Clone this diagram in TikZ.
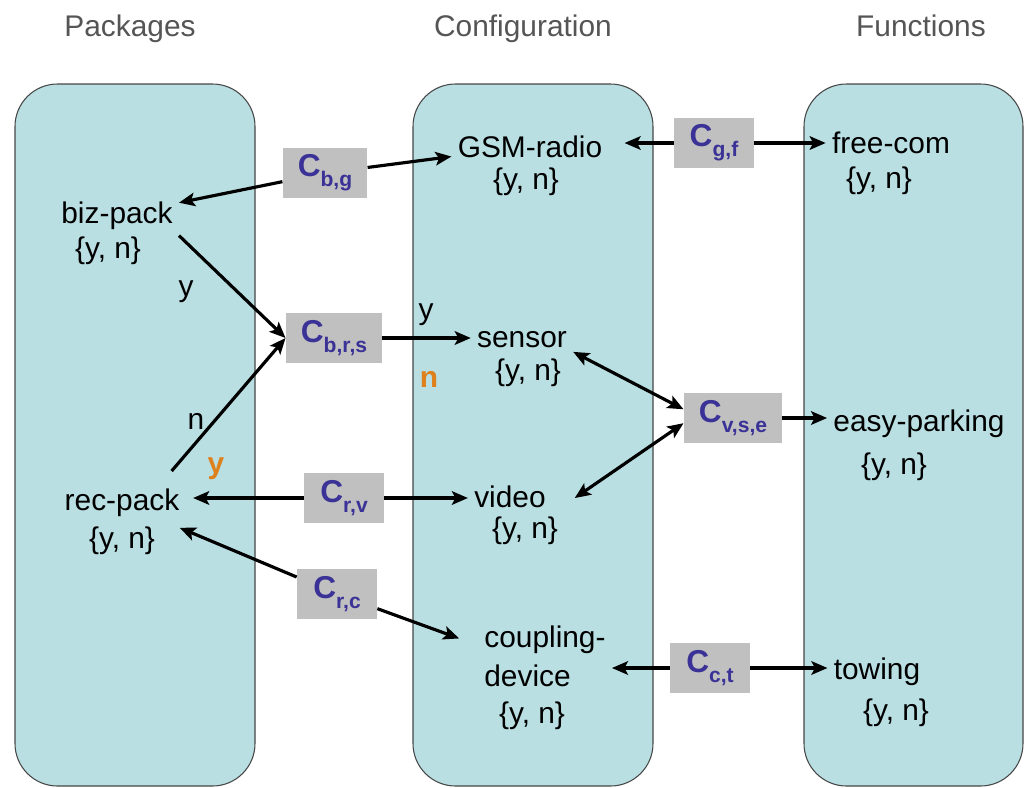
\documentclass[tikz,border=0pt]{standalone}
\usepackage{fontspec}
\setmainfont{Liberation Sans}
\usetikzlibrary{arrows.meta}

\definecolor{panelfill}{RGB}{185,223,227}
\definecolor{paneledge}{RGB}{70,70,70}
\definecolor{boxgray}{RGB}{192,192,192}
\definecolor{cblue}{RGB}{58,50,150}
\definecolor{ynorange}{RGB}{222,128,28}
\definecolor{titlegray}{RGB}{85,85,85}

% constraint name: bold C with lowered index
\newcommand{\cname}[1]{\textbf{C}\raisebox{-0.6ex}{\fontsize{12}{13}\selectfont\textbf{#1}}}

\begin{document}
\begin{tikzpicture}[x=0.2mm,y=-0.2mm,
      mypanel/.style={
         draw=paneledge,
         line width=0.6pt,
         fill=panelfill,
         rounded corners=8.5mm},
      mytitle/.style={
         text=titlegray,
         anchor=base,
         font=\fontsize{17}{20}\selectfont},
      myitem/.style={
         anchor=base,
         inner sep=1.2mm,
         font=\fontsize{17}{20}\selectfont},
      mybox/.style={
         fill=boxgray,
         text=cblue,
         minimum height=10mm,
         minimum width=16mm,
         inner xsep=3mm,
         font=\fontsize{18}{20}\selectfont},
      mylabel/.style={
         inner sep=0pt,
         font=\fontsize{17}{20}\selectfont},
      myorange/.style={text=ynorange, font=\fontsize{17}{20}\selectfont\bfseries},
      myarrow/.style={line width=1.8pt,-{Stealth[length=3.2mm,width=2.7mm,inset=0.7mm]}},
      myarrows/.style={line width=1.8pt,{Stealth[length=3.2mm,width=2.7mm,inset=0.7mm]}-{Stealth[length=3.2mm,width=2.7mm,inset=0.7mm]}}
      ]
      \useasboundingbox (0,0) rectangle (1027,787);

      % column titles
      \node[mytitle] (tpack) at (130,36) {Packages};
      \node[mytitle] (tconf) at (523,36) {Configuration};
      \node[mytitle] (tfunc) at (921,36) {Functions};

      % the three columns
      \draw[mypanel] (15,84) rectangle (255,786);
      \draw[mypanel] (413,84) rectangle (653,786);
      \draw[mypanel] (804,84) rectangle (1023,786);

      % packages
      \node[myitem] (biz) at (117,223) {biz-pack};
      \node[myitem] (bizd) at (108,258) {\{y, n\}};
      \node[myitem] (rec) at (122,510) {rec-pack};
      \node[myitem] (recd) at (122,548) {\{y, n\}};

      % configuration
      \node[myitem] (gsm) at (530,157) {GSM-radio};
      \node[myitem] (gsmd) at (526,189) {\{y, n\}};
      \node[myitem] (sensor) at (522,347) {sensor};
      \node[myitem] (sensord) at (528,380) {\{y, n\}};
      \node[myitem] (video) at (510,507) {video};
      \node[myitem] (videod) at (525,538) {\{y, n\}};
      \node[myitem,anchor=base west] (coup) at (478,647) {coupling-};
      \node[myitem,anchor=base west] (dev) at (478,686) {device};
      \node[myitem] (devd) at (532,723) {\{y, n\}};

      % functions
      \node[myitem] (free) at (891,153) {free-com};
      \node[myitem] (freed) at (879,188) {\{y, n\}};
      \node[myitem] (easy) at (919,431) {easy-parking};
      \node[myitem] (easyd) at (894,474) {\{y, n\}};
      \node[myitem] (tow) at (877,679) {towing};
      \node[myitem] (towd) at (896,720) {\{y, n\}};

      % constraints
      \node[mybox] (Cbg) at (325,173) {\cname{b,g}};
      \node[mybox] (Cgf) at (714,143) {\cname{g,f}};
      \node[mybox] (Cbrs) at (334,338) {\cname{b,r,s}};
      \node[mybox] (Cvse) at (733,418) {\cname{v,s,e}};
      \node[mybox] (Crv) at (344,498) {\cname{r,v}};
      \node[mybox] (Crc) at (337,594) {\cname{r,c}};
      \node[mybox] (Cct) at (710,668) {\cname{c,t}};

      % value labels
      \node[mylabel] (ybiz) at (186,292) {y};
      \node[mylabel] (nrec) at (196,421) {n};
      \node[mylabel,myorange] (yrec) at (216,469) {y};
      \node[mylabel] (ysen) at (426,315) {y};
      \node[mylabel,myorange] (nsen) at (429,379) {n};

    \foreach \b/\e in {% box side/target node
      Cgf.east/free,
      Cbrs.east/sensor,
      Cvse.east/easy,
      Crv.east/video,
      Cct.east/tow}
       \draw[myarrow] (\b) -- (\e.west |- \b);

      \draw[myarrow] (Cbg) -- (biz);
      \draw[myarrow] (Cbg) -- (gsm);
      \draw[myarrow,shorten >=3.2mm] (Cgf.west) -- (gsm.east |- Cgf.west);
      \draw[myarrow] (biz.south east) -- (Cbrs.west);
      \draw[myarrow] ([shift={(-14,-11)}]rec.north east) -- (Cbrs.west);
      \draw[myarrows] (sensor.-14) -- (Cvse.170);
      \draw[myarrows,shorten <=5.5mm] (video.south east) -- (Cvse.186);
      \draw[myarrow,shorten >=1.5mm] (Crv.west) -- (rec.east |- Crv.west);
      \draw[myarrow,shorten >=4mm] (Crc) -- (recd.north east);
      \draw[myarrow,shorten >=4mm] (Crc) -- ([yshift=-1.2mm]coup.west);
      \draw[myarrow] (Cct.west) -- (coup.east |- Cct.west);
    \end{tikzpicture}
\end{document}
